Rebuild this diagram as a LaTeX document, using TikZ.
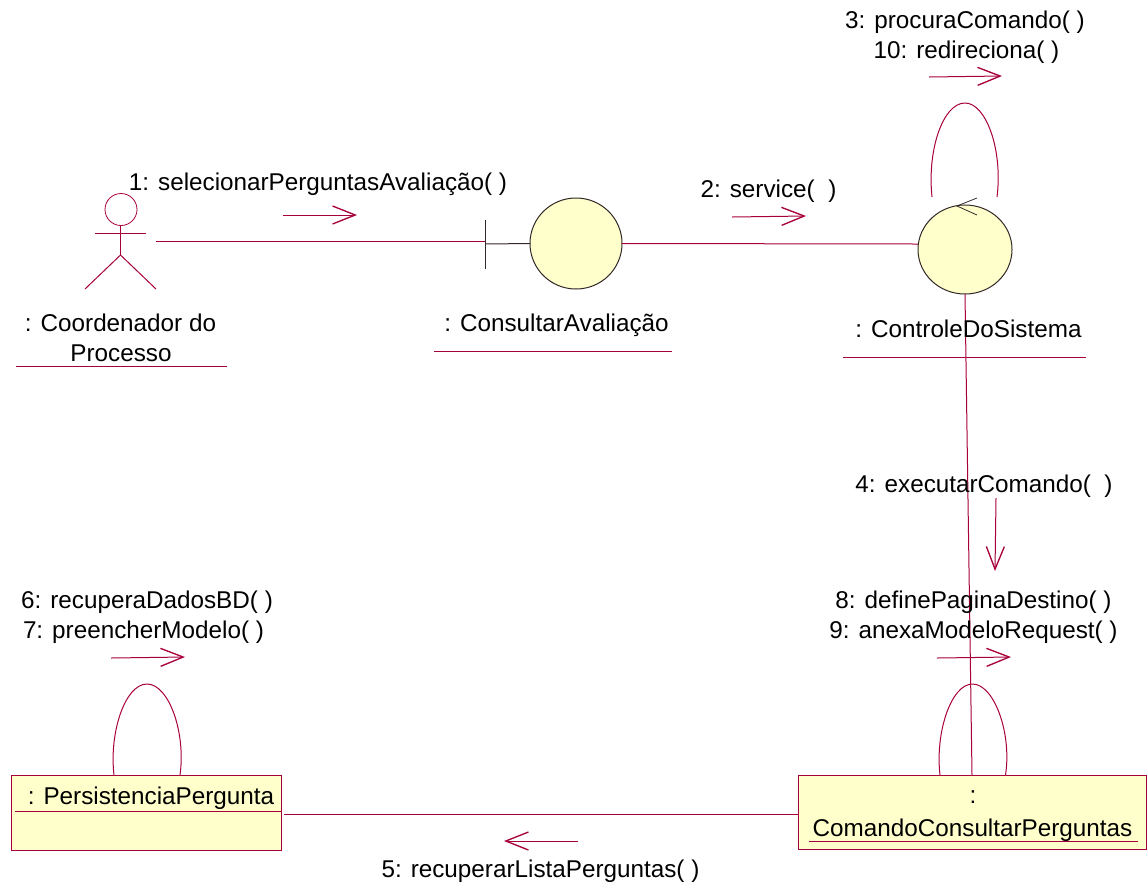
\documentclass[tikz,border=0pt]{standalone}
\usepackage{fontspec}
\setmainfont{Liberation Sans}
\usetikzlibrary{arrows.meta,shapes.geometric}
\definecolor{umlline}{RGB}{168,0,60}
\definecolor{umlfill}{RGB}{255,255,204}
\definecolor{umldark}{RGB}{50,40,40}
\tikzset{
  conn/.style={draw=umlline,line width=0.75pt},
  msg/.style={draw=umlline,line width=0.75pt,-{Straight Barb[length=17pt,width=13.5pt,line width=1pt]}},
  lbl/.style={inner sep=0,outer sep=0,anchor=base,font=\fontsize{18.2pt}{22pt}\selectfont,text=black},
  ctl/.style={ellipse,draw=umldark,fill=umlfill,line width=0.75pt,inner sep=0,outer sep=0,minimum width=70.5pt,minimum height=66.75pt},
  obj/.style={rectangle,draw=umlline,fill=umlfill,line width=0.7pt,inner sep=0,outer sep=0},
}
\begin{document}
\begin{tikzpicture}[x=0.75pt,y=-0.75pt]
\useasboundingbox (0,0) rectangle (1148,883);
% objects
\node[ctl,minimum width=69pt,minimum height=68.25pt] (bnd) at (576,243.5) {};
\node[ctl] (ctrl) at (965,249.5) {};
\node[obj,minimum width=202.5pt,minimum height=56.25pt] (pers) at (146.5,812.5) {};
\node[obj,minimum width=261pt,minimum height=55.5pt] (cmd) at (972,812) {};
% free ends
\coordinate (tickT) at (485,220);
\coordinate (tickB) at (485,269);
\coordinate (tickM) at (485,244);
\coordinate (actEnd) at (156,241.5);
\coordinate (tickL) at (485,241.5);
\coordinate (persEnd) at (284,814);
\coordinate (cmdEnd) at (798,814);
\coordinate (ctrlW) at (918,244);
% actor
\node[circle,draw=umlline,line width=0.6pt,inner sep=0,outer sep=0,minimum size=24pt] (acthead) at (121,209.5) {};
\coordinate (hip) at (120.5,255);
\coordinate (armL) at (95,233);
\coordinate (armR) at (146,233);
\coordinate (legL) at (85,289);
\coordinate (legR) at (156,289);
\draw[conn] (120.5,225.5) -- (hip);
\draw[conn] (armL) -- (armR);
\draw[conn] (legL) -- (hip) -- (legR);
% connectors
\draw[conn] (actEnd) -- (tickL);
\draw[umldark,line width=0.75pt] (tickT) -- (tickB);
\draw[umldark,line width=0.75pt] (tickM) -- (bnd.west);
\draw[conn] (bnd.east) -- (ctrlW);
\draw[conn] (ctrl.south) -- (cmd.north);
\draw[conn] (persEnd) -- (cmdEnd);
% control arrow mark
\coordinate (cmT) at (957,206);
\draw[umldark,line width=0.6pt] (977,198) -- (cmT) -- (977,215);
% self loops
\coordinate (l1a) at (932,197); \coordinate (l1t) at (965,103); \coordinate (l1b) at (997,197);
\coordinate (l2a) at (114,775); \coordinate (l2t) at (147,684); \coordinate (l2b) at (180,775);
\coordinate (l3a) at (940,775); \coordinate (l3t) at (972.5,684); \coordinate (l3b) at (1005.5,775);
\draw[conn] (l1a) .. controls (927,150) and (943,103) .. (l1t) .. controls (986,103) and (1003,150) .. (l1b);
\draw[conn] (l2a) .. controls (109,733) and (125,684) .. (l2t) .. controls (169,684) and (186,733) .. (l2b);
\draw[conn] (l3a) .. controls (935,733) and (951,684) .. (l3t) .. controls (994,684) and (1012,733) .. (l3b);
% message arrows
\coordinate (m1a) at (283,215); \coordinate (m1b) at (357,215);
\coordinate (m2a) at (732,217); \coordinate (m2b) at (806,216);
\coordinate (m3a) at (929,77); \coordinate (m3b) at (1002,76);
\coordinate (m4a) at (996,498); \coordinate (m4b) at (995,571);
\coordinate (m5a) at (578,841); \coordinate (m5b) at (504,841);
\coordinate (m6a) at (111,658); \coordinate (m6b) at (185,657);
\coordinate (m8a) at (937,658); \coordinate (m8b) at (1011,657);
\draw[msg] (m1a) -- (m1b);
\draw[msg] (m2a) -- (m2b);
\draw[msg] (m3a) -- (m3b);
\draw[msg] (m4a) -- (m4b);
\draw[msg] (m5a) -- (m5b);
\draw[msg] (m6a) -- (m6b);
\draw[msg] (m8a) -- (m8b);
% underlines
\coordinate (u1a) at (16,366); \coordinate (u1b) at (227,366);
\coordinate (u2a) at (434,351); \coordinate (u2b) at (672,351);
\coordinate (u3a) at (843,357); \coordinate (u3b) at (1086,357);
\coordinate (u4a) at (15,811); \coordinate (u4b) at (281,811);
\coordinate (u5a) at (809,841); \coordinate (u5b) at (1138,841);
\draw[conn] (u1a) -- (u1b);
\draw[conn] (u2a) -- (u2b);
\draw[conn] (u3a) -- (u3b);
\draw[conn] (u4a) -- (u4b);
\draw[conn] (u5a) -- (u5b);
% labels
\node[lbl] (t1) at (318,190) {1: selecionarPerguntasAvaliação( )};
\node[lbl] (t2) at (768.5,197) {2: service(\ \ )};
\node[lbl] (t3) at (965,28) {3: procuraComando( )};
\node[lbl] (t10) at (966.5,58) {10: redireciona( )};
\node[lbl] (a1) at (120.5,331) {: Coordenador do};
\node[lbl] (a2) at (121,361) {Processo};
\node[lbl] (b1) at (556.5,331) {: ConsultarAvaliação};
\node[lbl] (c1) at (968.5,337) {: ControleDoSistema};
\node[lbl] (t4) at (984,492) {4: executarComando(\ \ )};
\node[lbl] (t8) at (973.5,608) {8: definePaginaDestino( )};
\node[lbl] (t9) at (973.5,638) {9: anexaModeloRequest( )};
\node[lbl] (t6) at (147,608) {6: recuperaDadosBD( )};
\node[lbl] (t7) at (143.5,638) {7: preencherModelo( )};
\node[lbl] (p1) at (151,804) {: PersistenciaPergunta};
\node[lbl] (k1) at (973,803) {:};
\node[lbl] (k2) at (972.5,836) {ComandoConsultarPerguntas};
\node[lbl] (t5) at (540.5,877) {5: recuperarListaPerguntas( )};
\end{tikzpicture}
\end{document}
